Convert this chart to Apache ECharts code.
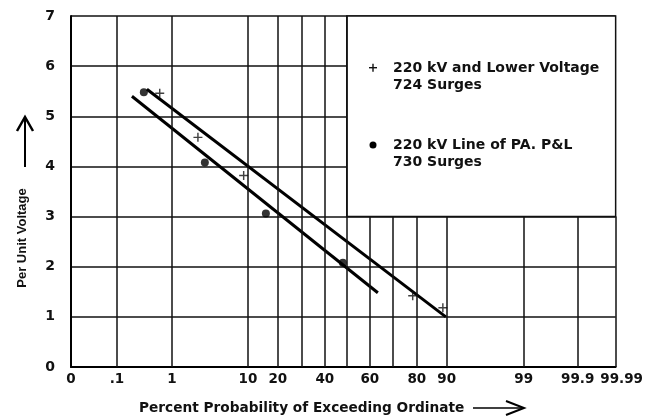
<!DOCTYPE html>
<html>
<head>
<meta charset="utf-8">
<script src="https://cdn.jsdelivr.net/npm/echarts@6/dist/echarts.min.js"></script>
<style>
html, body { margin: 0; padding: 0; background: #fff; }
#chart { width: 646px; height: 416px; }
</style>
</head>
<body>
<div id="chart"></div>
<script>
// probability paper: grid probabilities and where they sit along the x axis
var probTicks = [0, 0.1, 1, 10, 20, 30, 40, 50, 60, 70, 80, 90, 99, 99.9, 99.99];
var probPos = [0, 46, 101, 177, 207, 231, 254, 276, 299, 322, 346, 376, 453, 507, 545];
var probLabels = ['0', '.1', '1', '10', '20', '', '40', '', '60', '', '80', '90', '99', '99.9', '99.99'];

// 220 kV and lower voltage, 724 surges (+)
var lowerProb = [0.80, 4.08, 9.5, 78.3, 88.7];
var lowerVolt = [5.46, 4.58, 3.82, 1.42, 1.18];
// 220 kV line of PA. P&L, 730 surges (dots)
var paplProb = [0.54, 4.9, 16, 48.2];
var paplVolt = [5.48, 4.08, 3.06, 2.08];
// fitted lines
var lowerFitProb = [0.59, 89.7];
var lowerFitVolt = [5.54, 1.0];
var paplFitProb = [0.345, 63.5];
var paplFitVolt = [5.4, 1.48];

var legendBoxFrom = 50; // legend panel covers prob >= 50, voltage >= 3
var legendBoxVolt = 3;

function toPos(p) {
    for (var i = 1; i < probTicks.length; i++) {
        if (p <= probTicks[i]) {
            var f = (p - probTicks[i - 1]) / (probTicks[i] - probTicks[i - 1]);
            return probPos[i - 1] + f * (probPos[i] - probPos[i - 1]);
        }
    }
    return probPos[probPos.length - 1];
}

function pairs(ps, vs) {
    return ps.map(function(p, i) { return [toPos(p), vs[i]]; });
}

var xMax = probPos[probPos.length - 1];
var FONT = 'DejaVu Sans';

// vertical grid lines, cut short under the legend panel
var vLines = [];
probTicks.forEach(function(p, i) {
    if (i === 0) return;
    var top = (p > legendBoxFrom) ? legendBoxVolt : 7;
    vLines.push([{ coord: [probPos[i], 0] }, { coord: [probPos[i], top] }]);
});

var plusPath = 'path://M4.2,0H5.8V4.2H10V5.8H5.8V10H4.2V5.8H0V4.2H4.2Z';

var chart = echarts.init(document.getElementById('chart'));

chart.setOption({
    animation: false,
    grid: { left: 71, right: 30, top: 16, bottom: 49 },
    xAxis: {
        type: 'value',
        min: 0,
        max: xMax,
        axisLine: { lineStyle: { color: '#000', width: 2 } },
        axisTick: { show: false },
        splitLine: { show: false },
        axisLabel: {
            customValues: probPos,
            showMinLabel: true,
            showMaxLabel: true,
            hideOverlap: false,
            margin: 5,
            color: '#111',
            fontFamily: FONT,
            fontWeight: 'bold',
            fontSize: 13.5,
            formatter: function(v) {
                var i = probPos.indexOf(v);
                if (i === probPos.length - 1) return '{last|' + probLabels[i] + '}';
                return i >= 0 ? probLabels[i] : '';
            },
            rich: {
                last: {
                    padding: [0, 0, 0, 12],
                    color: '#111',
                    fontFamily: FONT,
                    fontWeight: 'bold',
                    fontSize: 13.5
                }
            }
        }
    },
    yAxis: {
        type: 'value',
        min: 0,
        max: 7,
        interval: 1,
        axisLine: { show: true, lineStyle: { color: '#000', width: 2 } },
        axisTick: { show: false },
        splitLine: { lineStyle: { color: '#111', width: 1.5 } },
        axisLabel: {
            margin: 16,
            color: '#111',
            fontFamily: FONT,
            fontWeight: 'bold',
            fontSize: 14
        }
    },
    series: [{
        name: 'grid',
        type: 'line',
        data: [],
        z: 1,
        markLine: {
            silent: true,
            symbol: ['none', 'none'],
            label: { show: false },
            lineStyle: { color: '#111', width: 1.5, type: 'solid' },
            data: vLines
        },
        markArea: {
            silent: true,
            itemStyle: { color: '#fff', borderColor: '#111', borderWidth: 1.5 },
            data: [[{ coord: [toPos(legendBoxFrom), legendBoxVolt] }, { coord: [xMax, 7] }]]
        }
    }, {
        name: 'lowerFit',
        type: 'line',
        z: 3,
        showSymbol: false,
        lineStyle: { color: '#000', width: 3 },
        data: pairs(lowerFitProb, lowerFitVolt)
    }, {
        name: 'paplFit',
        type: 'line',
        z: 3,
        showSymbol: false,
        lineStyle: { color: '#000', width: 3 },
        data: pairs(paplFitProb, paplFitVolt)
    }, {
        name: '220 kV and Lower Voltage',
        type: 'scatter',
        z: 4,
        symbol: plusPath,
        symbolSize: 9,
        itemStyle: { color: '#111' },
        data: pairs(lowerProb, lowerVolt)
    }, {
        name: '220 kV Line of PA. P&L',
        type: 'scatter',
        z: 4,
        symbol: 'circle',
        symbolSize: 8,
        itemStyle: { color: '#000' },
        data: pairs(paplProb, paplVolt)
    }],
    graphic: [
        // legend
        { type: 'rect', z: 100, shape: { x: 369, y: 67, width: 8, height: 1.4 }, style: { fill: '#111' } },
        { type: 'rect', z: 100, shape: { x: 372.3, y: 63.7, width: 1.4, height: 8 }, style: { fill: '#111' } },
        { type: 'text', z: 100, x: 393, y: 60, style: { text: '220 kV and Lower Voltage\n724 Surges', font: 'bold 14px "DejaVu Sans"', lineHeight: 17, fill: '#111' } },
        { type: 'circle', z: 100, shape: { cx: 373, cy: 145, r: 3.5 }, style: { fill: '#000' } },
        { type: 'text', z: 100, x: 393, y: 137, style: { text: '220 kV Line of PA. P&L\n730 Surges', font: 'bold 14px "DejaVu Sans"', lineHeight: 17, fill: '#111' } },
        // y title and arrow
        { type: 'text', z: 100, x: 22, y: 238, rotation: Math.PI / 2, style: { text: 'Per Unit Voltage', font: 'bold 13px "Liberation Sans"', fill: '#111', align: 'center', verticalAlign: 'middle' } },
        { type: 'line', z: 100, shape: { x1: 25, y1: 167, x2: 25, y2: 119 }, style: { stroke: '#000', lineWidth: 2 } },
        { type: 'polyline', z: 100, shape: { points: [[17, 131], [25, 117], [33, 131]] }, style: { stroke: '#000', lineWidth: 2.5, fill: null } },
        // x title and arrow
        { type: 'text', z: 100, x: 139, y: 408, style: { text: 'Percent Probability of Exceeding Ordinate', font: 'bold 13.7px "DejaVu Sans"', fill: '#111', verticalAlign: 'middle' } },
        { type: 'line', z: 100, shape: { x1: 473, y1: 408, x2: 523, y2: 408 }, style: { stroke: '#000', lineWidth: 1.5 } },
        { type: 'polyline', z: 100, shape: { points: [[506, 401], [524, 408], [506, 415]] }, style: { stroke: '#000', lineWidth: 2, fill: null } }
    ]
});
</script>
</body>
</html>
